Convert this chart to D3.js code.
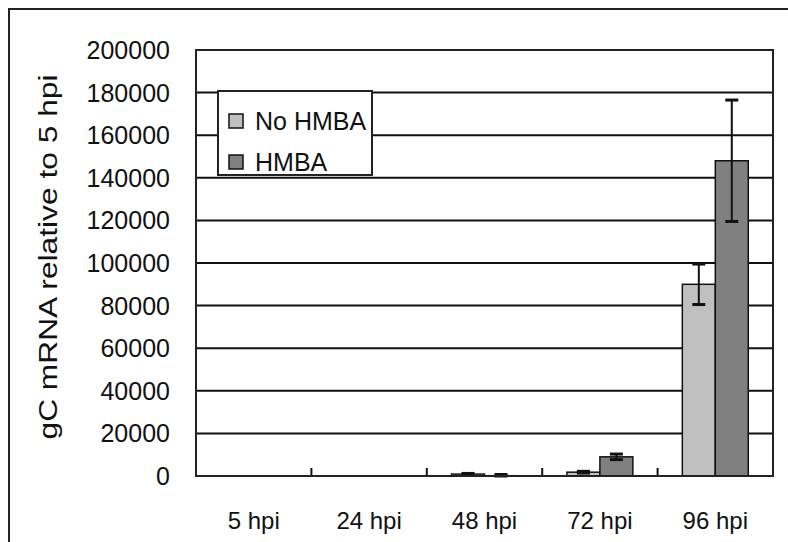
<!DOCTYPE html>
<html>
<head>
<meta charset="utf-8">
<script src="https://cdn.jsdelivr.net/npm/d3@7"></script>
<style>
  html, body { margin: 0; padding: 0; background: #fff; }
  svg { display: block; font-family: "Liberation Sans", Arial, sans-serif; }
</style>
</head>
<body>
<svg id="chart" width="788" height="542"></svg>
<script>
// data
const categories = ['5 hpi', '24 hpi', '48 hpi', '72 hpi', '96 hpi'];
const seriesNames = ['No HMBA', 'HMBA'];
const noHmba = [1, 20, 900, 1800, 90000];
const noHmbaErr = [0, 0, 300, 400, 9500];
const hmba = [1, 30, 150, 9000, 148000];
const hmbaErr = [0, 0, 550, 1300, 28500];
const yTicks = [0, 20000, 40000, 60000, 80000, 100000, 120000, 140000, 160000, 180000, 200000];
const seriesColors = ['#c0c0c0', '#808080'];

const svg = d3.select('#chart');

const plot = { left: 196, right: 773, top: 50, bottom: 476 };

// outer frame (runs off the right and bottom edge)
svg.append('rect')
  .attr('x', 9).attr('y', 9)
  .attr('width', 820).attr('height', 600)
  .attr('fill', 'none')
  .attr('stroke', '#222')
  .attr('stroke-width', 2);

const x = d3.scaleBand()
  .domain(categories)
  .range([plot.left, plot.right])
  .paddingInner(0)
  .paddingOuter(0);

const x1 = d3.scaleBand()
  .domain(seriesNames)
  .range([0, x.bandwidth()])
  .paddingInner(0)
  .paddingOuter(0.75);

const y = d3.scaleLinear()
  .domain([0, 200000])
  .range([plot.bottom, plot.top]);

// gridlines
svg.append('g')
  .selectAll('line')
  .data(yTicks.slice(1, -1))
  .join('line')
  .attr('x1', plot.left).attr('x2', plot.right)
  .attr('y1', d => y(d)).attr('y2', d => y(d))
  .attr('stroke', '#111')
  .attr('stroke-width', 2);

// y tick labels
svg.append('g')
  .selectAll('text')
  .data(yTicks)
  .join('text')
  .attr('x', 170)
  .attr('y', d => y(d))
  .attr('dy', '0.36em')
  .attr('text-anchor', 'end')
  .attr('font-size', 25)
  .attr('fill', '#111')
  .text(d => d);

// bars
const rows = categories.map((c, i) => ({
  cat: c,
  vals: [
    { s: seriesNames[0], v: noHmba[i], e: noHmbaErr[i] },
    { s: seriesNames[1], v: hmba[i], e: hmbaErr[i] }
  ]
}));

const groups = svg.append('g')
  .selectAll('g')
  .data(rows)
  .join('g')
  .attr('transform', d => `translate(${x(d.cat)},0)`);

groups.selectAll('rect')
  .data(d => d.vals)
  .join('rect')
  .attr('x', d => x1(d.s))
  .attr('y', d => y(d.v))
  .attr('width', x1.bandwidth())
  .attr('height', d => y(0) - y(d.v))
  .attr('fill', (d, i) => seriesColors[i])
  .attr('stroke', '#111')
  .attr('stroke-width', 1.5);

// error bars
const err = groups.selectAll('g.err')
  .data(d => d.vals.filter(v => v.e > 0))
  .join('g')
  .attr('class', 'err')
  .attr('transform', d => `translate(${x1(d.s) + x1.bandwidth() / 2},0)`);

err.append('line')
  .attr('y1', d => y(d.v + d.e))
  .attr('y2', d => y(Math.max(0, d.v - d.e)))
  .attr('stroke', '#111')
  .attr('stroke-width', 2);

err.selectAll('line.cap')
  .data(d => [d.v + d.e, Math.max(0, d.v - d.e)])
  .join('line')
  .attr('class', 'cap')
  .attr('x1', -6.5).attr('x2', 6.5)
  .attr('y1', d => y(d)).attr('y2', d => y(d))
  .attr('stroke', '#111')
  .attr('stroke-width', 3);

// x tick marks at category boundaries (inside)
svg.append('g')
  .selectAll('line')
  .data(categories.slice(1))
  .join('line')
  .attr('x1', d => x(d)).attr('x2', d => x(d))
  .attr('y1', plot.bottom).attr('y2', plot.bottom - 8)
  .attr('stroke', '#111')
  .attr('stroke-width', 2);

// plot frame
svg.append('rect')
  .attr('x', plot.left).attr('y', plot.top)
  .attr('width', plot.right - plot.left)
  .attr('height', plot.bottom - plot.top)
  .attr('fill', 'none')
  .attr('stroke', '#222')
  .attr('stroke-width', 2);

// x labels
svg.append('g')
  .selectAll('text')
  .data(categories)
  .join('text')
  .attr('x', d => x(d) + x.bandwidth() / 2)
  .attr('y', 529)
  .attr('text-anchor', 'middle')
  .attr('font-size', 24)
  .attr('fill', '#111')
  .text(d => d);

// y axis title
svg.append('text')
  .attr('transform', 'translate(57,257) rotate(-90)')
  .attr('text-anchor', 'middle')
  .attr('font-size', 26)
  .attr('fill', '#111')
  .attr('textLength', 365)
  .attr('lengthAdjust', 'spacingAndGlyphs')
  .text('gC mRNA relative to 5 hpi');

// legend
const legend = svg.append('g').attr('transform', 'translate(218,91)');
legend.append('rect')
  .attr('width', 154).attr('height', 84)
  .attr('fill', '#fff')
  .attr('stroke', '#222')
  .attr('stroke-width', 2);

const items = legend.selectAll('g.item')
  .data(seriesNames)
  .join('g')
  .attr('class', 'item')
  .attr('transform', (d, i) => `translate(11,${23 + i * 41})`);

items.append('rect')
  .attr('width', 14).attr('height', 14)
  .attr('fill', (d, i) => seriesColors[i])
  .attr('stroke', '#111')
  .attr('stroke-width', 1.5);

items.append('text')
  .attr('x', 26)
  .attr('y', 7)
  .attr('dy', '0.36em')
  .attr('font-size', 25)
  .attr('fill', '#111')
  .text(d => d);
</script>
</body>
</html>
